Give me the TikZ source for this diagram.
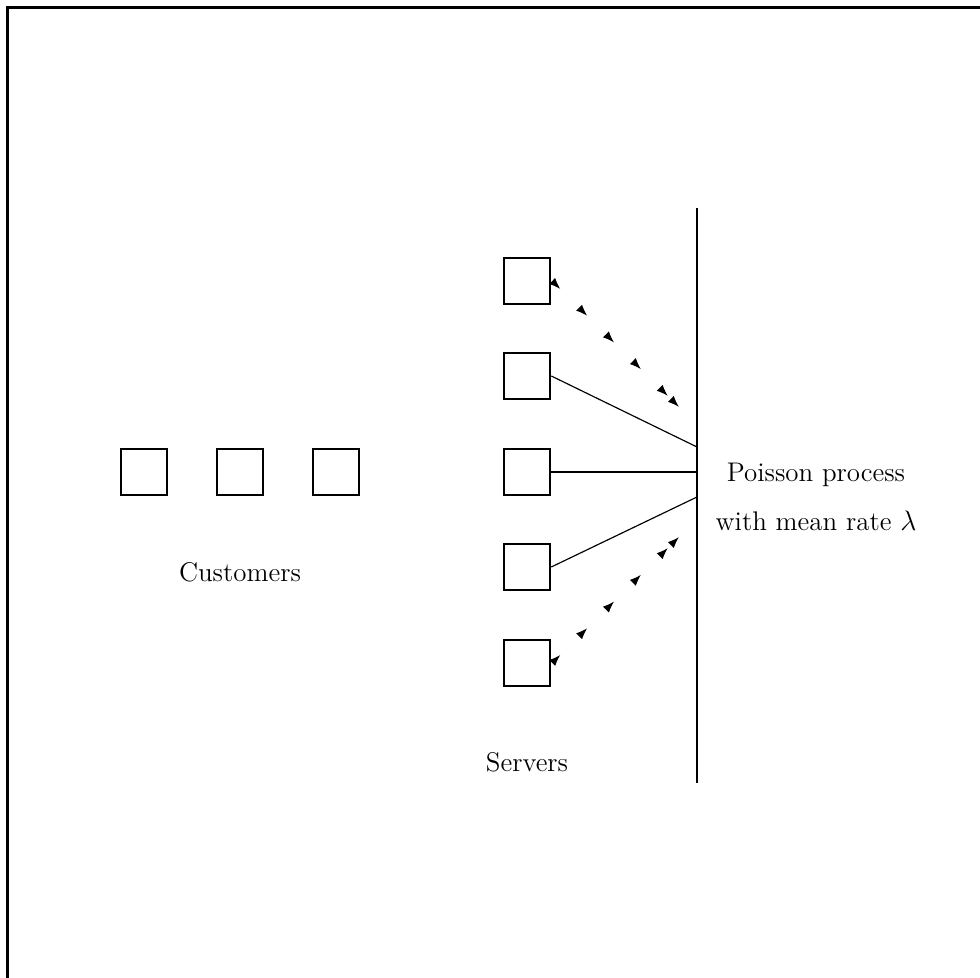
\documentclass[tikz,border=0pt]{standalone}
\usepackage{amsmath}
\usepackage{tikz}
\usetikzlibrary{arrows.meta,decorations.markings}
\tikzset{
  box/.style={draw,line width=1.1pt,minimum size=0.69cm,inner sep=0pt},
  lnk/.style={line width=0.5pt},
  bar/.style={line width=1pt},
  flow/.style={decorate,decoration={markings,
    mark=between positions 0.04 and 0.91 step 0.2175 with {\arrow{Latex[length=4.8pt,width=3.6pt]}},
    mark=at position 1 with {\arrow{Latex[length=4.8pt,width=3.6pt]}}}},
  lbl/.style={font=\fontsize{11.5}{21}\selectfont}
}

\begin{document}
\begin{tikzpicture}[x=0.015cm,y=-0.015cm]
\useasboundingbox (0,0) rectangle (980,978);
\draw[line width=1.3pt] (7.5,978) -- (7.5,7.5) -- (980,7.5);
% customers waiting
\node[box] (c1) at (144,472) {};
\node[box] (c2) at (240,472) {};
\node[box] (c3) at (336,472) {};
\node[lbl] (cust) at (240,572) {Customers};
% servers
\foreach \i/\y in {1/281,2/376,3/472,4/567,5/663}
  \node[box] (s\i) at (527,\y) {};
\node[lbl] (serv) at (527,762) {Servers};
% arrival line
\coordinate (top) at (697,208);
\coordinate (bot) at (697,783);
\draw[bar] (top) -- (bot);
\coordinate (p2) at (697,447);
\coordinate (p3) at (697,472);
\coordinate (p4) at (697,497);
\draw[lnk] (s2.east) -- (p2);
\draw[line width=0.8pt] (s3.east) -- (p3);
\draw[lnk] (s4.east) -- (p4);
\coordinate (q1) at (679,407);
\coordinate (q5) at (679,537);
\path[flow] ([xshift=1.7pt,yshift=-1.3pt]s1.east) -- (q1);
\path[flow] ([xshift=1.7pt,yshift=1.3pt]s5.east) -- (q5);
\node[lbl,align=center] (pois) at (816,497) {Poisson process\\with mean rate $\lambda$};
\end{tikzpicture}
\end{document}
